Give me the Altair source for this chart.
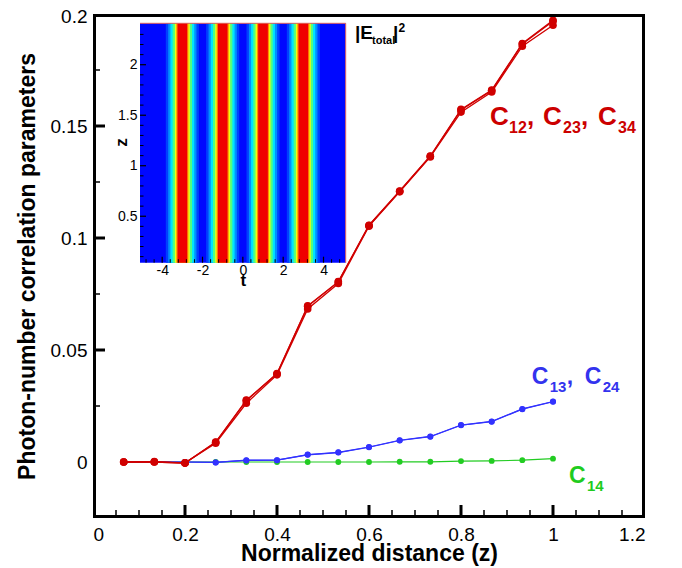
import altair as alt
import pandas as pd

FONT = "Liberation Sans"

# ---------------- main data ----------------
z_dist = [0.0667, 0.1333, 0.2, 0.2667, 0.3333, 0.4, 0.4667, 0.5333, 0.6, 0.6667,
          0.7333, 0.8, 0.8667, 0.9333, 1.0]
c12 = [0.0, 0.0, -0.0005, 0.0089, 0.0276, 0.0395, 0.0697, 0.0805, 0.1057, 0.1210,
       0.1366, 0.1574, 0.1660, 0.1868, 0.1972]
c23 = [0.0, 0.0002, -0.0004, 0.0084, 0.0262, 0.0389, 0.0683, 0.0797, 0.1053, 0.1206,
       0.1362, 0.1562, 0.1652, 0.1856, 0.1950]
c34 = [0.0, 0.0, -0.0005, 0.0088, 0.0274, 0.0394, 0.0695, 0.0804, 0.1056, 0.1209,
       0.1365, 0.1572, 0.1658, 0.1866, 0.1968]
c13 = [0.0, 0.0, 0.0, -0.0002, 0.0008, 0.0008, 0.0033, 0.0043, 0.0067, 0.0097,
       0.0114, 0.0165, 0.0181, 0.0237, 0.0270]
c24 = [0.0, 0.0, 0.0, -0.0002, 0.0007, 0.0008, 0.0032, 0.0042, 0.0066, 0.0096,
       0.0113, 0.0164, 0.0180, 0.0236, 0.0269]
c14 = [0.0, 0.0, 0.0, 0.0, 0.0, 0.0, 0.0, 0.0, 0.0, 0.0001,
       0.0001, 0.0004, 0.0005, 0.0008, 0.0015]

X_RANGE = [0, 1.2]
Y_RANGE = [-0.025, 0.2]
x_major = [0, 0.2, 0.4, 0.6, 0.8, 1.0, 1.2]
x_minor = [0.05, 0.1, 0.15, 0.25, 0.3, 0.35, 0.45, 0.5, 0.55, 0.65, 0.7, 0.75,
           0.85, 0.9, 0.95, 1.05, 1.1, 1.15]
y_major = [0, 0.05, 0.1, 0.15, 0.2]
y_minor = [0.025, 0.075, 0.125, 0.175]

# ---------------- inset data ----------------
pulse_t = [-3, -1, 1, 3]
band_halfwidth = [0.82, 0.70, 0.59, 0.48, 0.37, 0.30, 0.24]
band_color = ["#0040ff", "#0090ff", "#00e4ff", "#50ff80", "#f0ff10", "#ff8c00", "#f00000"]
inset_t_labels = [-4, -2, 0, 2, 4]
inset_t_minor = [-4.8, -4.4, -3.6, -3.2, -2.8, -2.4, -1.6, -1.2, -0.8, -0.4, 0.4, 0.8,
                 1.2, 1.6, 2.4, 2.8, 3.2, 3.6, 4.4, 4.8]
inset_z_labels = [0.5, 1.0, 1.5, 2.0]
inset_z_minor = [0.1, 0.2, 0.3, 0.4, 0.6, 0.7, 0.8, 0.9, 1.1, 1.2, 1.3, 1.4, 1.6,
                 1.7, 1.8, 1.9, 2.1, 2.2, 2.3]
T_RANGE = [-5.1, 5.1]
Z_RANGE = [0.04, 2.41]

RED, BLUE, GREEN = "#d00000", "#3232ff", "#22cc22"

# ---------------- main layers ----------------
xs = alt.Scale(domain=X_RANGE, nice=False, zero=False)
ys = alt.Scale(domain=Y_RANGE, nice=False, zero=False)
xaxis = alt.Axis(orient="bottom", values=x_major, format=".1~f", ticks=False, domain=False,
                 grid=False, labelFont=FONT, labelFontSize=19, labelPadding=7,
                 labelColor="black", title="Normalized distance (z)", titleFont=FONT,
                 titleFontSize=23, titleFontWeight="bold", titleColor="black",
                 titleY=24, titleBaseline="top")
yaxis = alt.Axis(orient="left", values=y_major, format=".2~f", ticks=False, domain=False,
                 grid=False, labelFont=FONT, labelFontSize=19, labelPadding=6,
                 labelColor="black",
                 labelOffset=alt.condition("datum.value >= 0.2", alt.value(2), alt.value(0)),
                 title="Photon-number correlation parameters",
                 titleFont=FONT, titleFontSize=23, titleFontWeight="bold",
                 titleColor="black", titleX=-66, titleY=252, titleBaseline="middle",
                 titleAngle=-90)


def X(f):
    return alt.X(f, type="quantitative", scale=xs, axis=xaxis)


def Y(f):
    return alt.Y(f, type="quantitative", scale=ys, axis=yaxis)


def series_layer(names, vals, color, size, width):
    rows = []
    for n, v in zip(names, vals):
        for zz, cc in zip(z_dist, v):
            rows.append({"s": n, "z": zz, "c": cc})
    d = pd.DataFrame(rows)
    base = alt.Chart(d)
    ln = base.mark_line(color=color, strokeWidth=width).encode(x=X("z"), y=Y("c"), detail="s:N")
    pt = base.mark_circle(color=color, size=size, opacity=1).encode(x=X("z"), y=Y("c"))
    return ln + pt


green_l = series_layer(["C14"], [c14], GREEN, 34, 1.2)
blue_l = series_layer(["C13", "C24"], [c13, c24], BLUE, 36, 1.2)
red_l = series_layer(["C12", "C23", "C34"], [c12, c23, c34], RED, 58, 1.3)

# inward ticks for main axes
xt = pd.DataFrame({"v": x_major[1:-1], "e": Y_RANGE[0]})
xtm = pd.DataFrame({"v": x_minor, "e": Y_RANGE[0]})
yt = pd.DataFrame({"v": y_major[1:-1], "e": X_RANGE[0]})
ytm = pd.DataFrame({"v": y_minor, "e": X_RANGE[0]})
ticks = (
    alt.Chart(xt).mark_rule(color="black", strokeWidth=3, y2Offset=-13).encode(x=X("v"), y=Y("e"), y2="e")
    + alt.Chart(xtm).mark_rule(color="black", strokeWidth=1.5, y2Offset=-8).encode(x=X("v"), y=Y("e"), y2="e")
    + alt.Chart(yt).mark_rule(color="black", strokeWidth=3, x2Offset=12).encode(y=Y("v"), x=X("e"), x2="e")
    + alt.Chart(ytm).mark_rule(color="black", strokeWidth=1.5, x2Offset=7).encode(y=Y("v"), x=X("e"), x2="e")
)

# frame: each edge drawn as a rule just inside the plot extremes
edge_b = pd.DataFrame({"v": [Y_RANGE[0]], "a": [X_RANGE[0]], "b": [X_RANGE[1]]})
edge_t = pd.DataFrame({"v": [Y_RANGE[1]], "a": [X_RANGE[0]], "b": [X_RANGE[1]]})
edge_l = pd.DataFrame({"v": [X_RANGE[0]], "a": [Y_RANGE[0]], "b": [Y_RANGE[1]]})
edge_r = pd.DataFrame({"v": [X_RANGE[1]], "a": [Y_RANGE[0]], "b": [Y_RANGE[1]]})
frame = (
    alt.Chart(edge_b).mark_rule(color="black", strokeWidth=3, yOffset=-1.5)
    .encode(y=Y("v"), x=X("a"), x2="b")
    + alt.Chart(edge_t).mark_rule(color="black", strokeWidth=3, yOffset=1.5)
    .encode(y=Y("v"), x=X("a"), x2="b")
    + alt.Chart(edge_l).mark_rule(color="black", strokeWidth=3, xOffset=1.5)
    .encode(x=X("v"), y=Y("a"), y2="b")
    + alt.Chart(edge_r).mark_rule(color="black", strokeWidth=3, xOffset=-1.5)
    .encode(x=X("v"), y=Y("a"), y2="b")
)

# annotations: (text, dx, dy, size)
annotations = [
    (0.863, 0.1506, "#cc0000", [("C", 0, 0, 26), ("12", 19, 8, 16), (",", 37, 0, 26),
                                ("C", 53, 0, 26), ("23", 73, 8, 16), (",", 91, 0, 26),
                                ("C", 108, 0, 26), ("34", 128, 8, 16)]),
    (0.9537, 0.0347, "#3333ee", [("C", 0, 0, 23), ("13", 18, 8, 15), (",", 35, 0, 23),
                                 ("C", 53, 0, 23), ("24", 71, 8, 15)]),
    (1.0348, -0.0094, "#1fcc1f", [("C", 0, 0, 23), ("14", 18, 8, 15)]),
    (0.5696, 0.1890, "black", [("|E", 0, 0, 19), ("total", 17, 5, 11), ("|", 38, 0, 19),
                               ("2", 43.5, -7, 12)]),
]
ann_layers = []
for ax, ay, col, segs in annotations:
    for txt, dx, dy, sz in segs:
        ann_layers.append(
            alt.Chart(pd.DataFrame({"x": [ax], "y": [ay], "t": [txt]}))
            .mark_text(align="left", baseline="alphabetic", dx=dx, dy=dy, font=FONT,
                       fontSize=sz, fontWeight="bold", color=col)
            .encode(x=X("x"), y=Y("y"), text="t:N")
        )

main = alt.layer(green_l, blue_l, red_l, ticks, frame, *ann_layers)

# ---------------- inset ----------------
ts = alt.Scale(domain=T_RANGE, range=[47, 252.7], nice=False, zero=False)
zs = alt.Scale(domain=Z_RANGE, range=[248.7, 9.3], nice=False, zero=False)
taxis = alt.Axis(orient="bottom", offset=-255.3, values=inset_t_labels, ticks=False,
                 domain=False, grid=False,
                 labelExpr="(datum.value < 0 ? '-' : '') + abs(datum.value)",
                 labelFont=FONT, labelFontSize=14, labelPadding=1, labelColor="black",
                 title="t", titleFont=FONT, titleFontSize=17, titleFontWeight="bold",
                 titleColor="black", titleY=10, titleBaseline="top")
zaxis = alt.Axis(orient="left", offset=-47, values=inset_z_labels, format=".1~f",
                 ticks=False, domain=False, grid=False, labelFont=FONT, labelFontSize=14,
                 labelPadding=3, labelColor="black", title="z", titleFont=FONT,
                 titleFontSize=17, titleFontWeight="bold", titleColor="black",
                 titleX=-19, titleY=128, titleBaseline="middle", titleAngle=-90)


def T(f):
    return alt.X(f, type="quantitative", scale=ts, axis=taxis)


def Zc(f):
    return alt.Y(f, type="quantitative", scale=zs, axis=zaxis)


rows = [{"t0": T_RANGE[0], "t1": T_RANGE[1], "col": "#0008ff"}]
for pc in pulse_t:
    for hw, col in zip(band_halfwidth, band_color):
        rows.append({"t0": pc - hw, "t1": pc + hw, "col": col})
bands = pd.DataFrame(rows)
bands["z0"] = Z_RANGE[0]
bands["z1"] = Z_RANGE[1]

heat = alt.Chart(bands).mark_rect(strokeWidth=0).encode(
    x=T("t0"), x2="t1", y=Zc("z0"), y2="z1", color=alt.Color("col:N", scale=None)
)
# thin reddish edges on top and right of the image
ib_h = pd.DataFrame({"t0": [T_RANGE[0]], "t1": [T_RANGE[1]], "z": [Z_RANGE[1]]})
ib_v = pd.DataFrame({"z0": [Z_RANGE[0]], "z1": [Z_RANGE[1]], "t": [T_RANGE[1]]})
border = (
    alt.Chart(ib_h).mark_rule(color="#e06060", strokeWidth=1).encode(x=T("t0"), x2="t1", y=Zc("z"))
    + alt.Chart(ib_v).mark_rule(color="#e06060", strokeWidth=1).encode(y=Zc("z0"), y2="z1", x=T("t"))
)

itm = pd.DataFrame({"v": inset_t_labels, "e": Z_RANGE[0]})
itn = pd.DataFrame({"v": inset_t_minor, "e": Z_RANGE[0]})
izm = pd.DataFrame({"v": inset_z_labels, "e": T_RANGE[0]})
izn = pd.DataFrame({"v": inset_z_minor, "e": T_RANGE[0]})
inset_ticks = (
    alt.Chart(itm).mark_rule(color="black", strokeWidth=1.2, y2Offset=-6).encode(x=T("v"), y=Zc("e"), y2="e")
    + alt.Chart(itn).mark_rule(color="black", strokeWidth=1, y2Offset=-3.5).encode(x=T("v"), y=Zc("e"), y2="e")
    + alt.Chart(izm).mark_rule(color="black", strokeWidth=1.2, x2Offset=6).encode(y=Zc("v"), x=T("e"), x2="e")
    + alt.Chart(izn).mark_rule(color="black", strokeWidth=1, x2Offset=3.5).encode(y=Zc("v"), x=T("e"), x2="e")
)

inset = alt.layer(heat, border, inset_ticks)

chart = (
    alt.layer(inset, main)
    .resolve_scale(x="independent", y="independent")
    .properties(width=552, height=504, background="white",
                view=alt.ViewBackground(stroke="transparent", strokeWidth=0),
                autosize=alt.AutoSizeParams(type="none"),
                padding={"left": 85, "top": 6, "right": 25, "bottom": 52})
    .configure_view(stroke="transparent", strokeWidth=0)
)

chart.save("out.html", embed_options={"renderer": "svg", "actions": False})
